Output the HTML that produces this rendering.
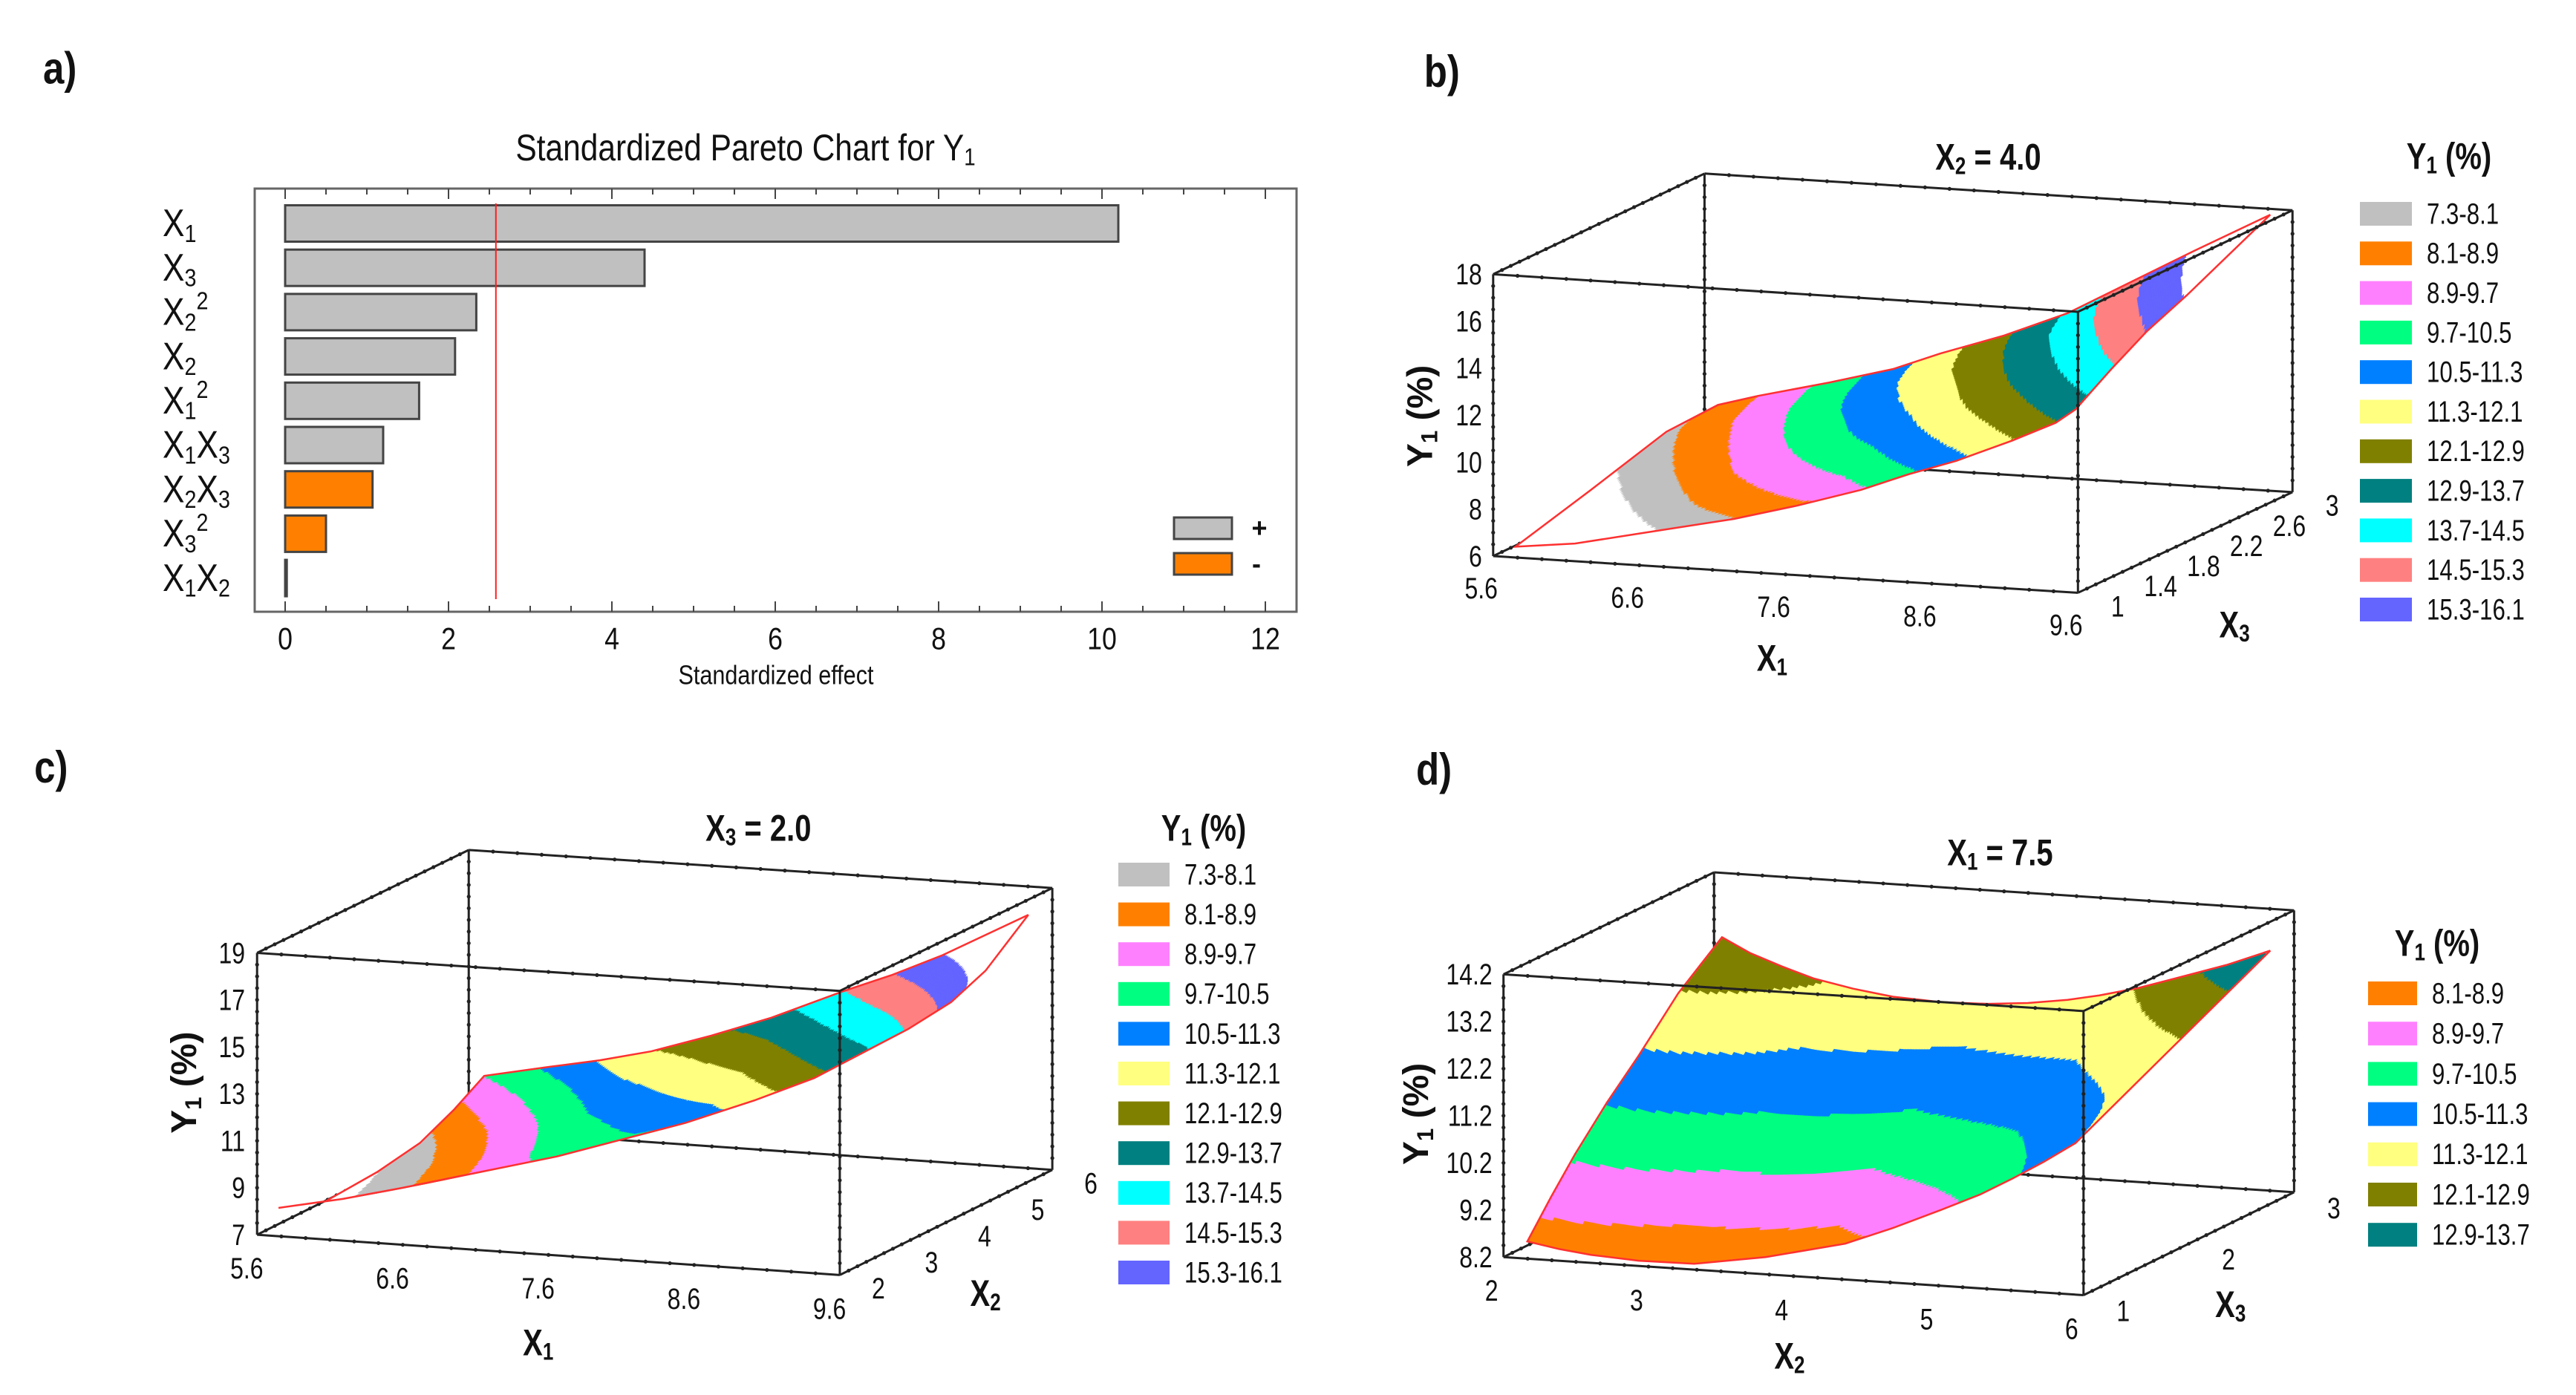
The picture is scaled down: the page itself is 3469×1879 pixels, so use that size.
<!DOCTYPE html>
<html><head><meta charset="utf-8">
<style>
html,body{margin:0;padding:0;background:#fff;}
svg{display:block;font-family:"Liberation Sans","DejaVu Sans",sans-serif;}
</style></head>
<body>
<svg id="fig" width="3469" height="1879" viewBox="0 0 3469 1879" xmlns="http://www.w3.org/2000/svg">
<rect x="0" y="0" width="3469" height="1879" fill="#fff"/>
<g id="pa"></g>
<g id="pb"></g>
<g id="pc"></g>
<g id="pd"></g>
</svg>
<script>
// ---------- Pareto data ----------
const paretoTerms = [["X","1"],["X","3"],["X","2","2"],["X","2"],["X","1","2"],["X1X3"],["X2X3"],["X","3","2"],["X1X2"]];
const paretoValues = [10.2, 4.4, 2.34, 2.08, 1.64, 1.2, 1.07, 0.5, 0.02];
const paretoSigns = ["+","+","+","+","+","+","-","-","+"];
const paretoTicks = [0,2,4,6,8,10,12];
const paretoCritical = 2.58;

// ---------- contour legend data ----------
const levels = [7.3,8.1,8.9,9.7,10.5,11.3,12.1,12.9,13.7,14.5,15.3,16.1];
const levelColors = ["#c0c0c0","#ff8000","#ff80ff","#00ff80","#0080ff","#ffff80","#808000","#008080","#00ffff","#ff8080","#6464ff"];

// ---------- surface value samples (rows: front/mid/back, 5 samples along u) ----------
const bFront = [5.4, 7.4, 8.9, 11.0, 13.3];
const bMid   = [7.2, 9.4, 11.3, 13.5, 15.8];
const bBack  = [8.25, 10.6, 12.95, 15.3, 17.65];
const cFront = [6.8, 9.4, 10.6, 13.3, 16.7];
const cMid   = [7.6, 10.3, 12.0, 14.4, 17.1];
const cBack  = [9.7, 11.9, 13.4, 15.5, 17.5];
const dFront = [8.55, 8.3, 8.6, 9.7, 11.3];
const dMid   = [10.75, 10.35, 10.3, 10.9, 12.0];
const dBack  = [12.85, 12.0, 11.8, 12.1, 13.75];

// axis tick labels
const bYTicks = [6,8,10,12,14,16,18], bX1Ticks=["5.6","6.6","7.6","8.6","9.6"], bX3Ticks=["1","1.4","1.8","2.2","2.6","3"];
const cYTicks = [7,9,11,13,15,17,19], cX1Ticks=["5.6","6.6","7.6","8.6","9.6"], cX2Ticks=["2","3","4","5","6"];
const dYTicks = ["8.2","9.2","10.2","11.2","12.2","13.2","14.2"], dX2Ticks=["2","3","4","5","6"], dX3Ticks=["1","2","3"];

const NS="http://www.w3.org/2000/svg";
function mk(parent,tag,attrs){const e=document.createElementNS(NS,tag);for(const k in attrs)e.setAttribute(k,attrs[k]);parent.appendChild(e);return e;}
function txt(parent,x,y,s,size,anchor,weight,sx,name){
  const t=mk(parent,"text",{transform:`translate(${x},${y}) scale(${sx||1},1)`,"font-size":size,"text-anchor":anchor||"start","font-weight":weight||"normal",fill:"#111","dominant-baseline":"central"});
  t.textContent=s;
  
  
  return t;}
function subTxt(parent,x,y,parts,size,anchor,weight,sx,name){
  const t=mk(parent,"text",{transform:`translate(${x},${y}) scale(${sx||1},1)`,"font-size":size,"text-anchor":anchor||"start","font-weight":weight||"normal",fill:"#111","dominant-baseline":"central"});
  
  
  parts.forEach(p=>{const ts=mk(t,"tspan",{});ts.textContent=p[0];
    if(p[1]==="s"){ts.setAttribute("font-size",size*0.65);ts.setAttribute("dy",size*0.25);}
    if(p[1]==="p"){ts.setAttribute("font-size",size*0.65);ts.setAttribute("dy",-size*0.55);}
    if(p[1]==="r"){ts.setAttribute("dy",p[2]);}
  });
  return t;}

// ---------- Pareto chart ----------
(function(){
  const g=document.getElementById("pa");
  const X0=384, PX=110, Y0=301, DY=59.7, BH=49;
  const xs=v=>X0+PX*v, ys=i=>Y0+DY*i;
  txt(g,58,92,"a)",60,"start","bold",0.85,"panel-label-a");
  subTxt(g,1004,199,[["Standardized Pareto Chart for Y","n"],["1","s"]],50,"middle","normal",0.85,"pareto-title");
  mk(g,"rect",{x:343,y:254,width:1403,height:570,fill:"none",stroke:"#666","stroke-width":3});
  for(let v=0;v<=12.01;v+=0.5){
    const L=(Math.abs(v-Math.round(v/2)*2)<1e-6)?14:8;
    mk(g,"line",{x1:xs(v),x2:xs(v),y1:824,y2:824-L,stroke:"#444","stroke-width":2});
    mk(g,"line",{x1:xs(v),x2:xs(v),y1:254,y2:254+L,stroke:"#444","stroke-width":2});
  }
  paretoTicks.forEach(v=>txt(g,xs(v),861,String(v),42,"middle","normal",0.85,"x-tick-label"));
  txt(g,1045,910,"Standardized effect",36,"middle","normal",0.85,"x-axis-title");
  paretoValues.forEach((v,i)=>{
    const r=mk(g,"rect",{x:xs(0),y:ys(i)-BH/2,width:Math.max(PX*v,2),height:BH,fill:paretoSigns[i]==="+"?"#c0c0c0":"#ff8000",stroke:"#444","stroke-width":3});
    
    
    const term=paretoTerms[i];
    let parts;
    if(term.length===1){const s=term[0];parts=[["X","n"],[s[1],"s"],["X","r",-52*0.25],[s[3],"s"]];}
    else if(term.length===2){parts=[["X","n"],[term[1],"s"]];}
    else {parts=[["X","n"],[term[1],"s"],[term[2],"p"]];}
    subTxt(g,219,ys(i),parts,52,"start","normal",0.85,"term-label");
  });
  const cl=mk(g,"line",{x1:xs(paretoCritical),x2:xs(paretoCritical),y1:274,y2:807,stroke:"#ff2020","stroke-width":2});
  
  const l1=mk(g,"rect",{x:1581,y:697,width:78,height:29,fill:"#c0c0c0",stroke:"#444","stroke-width":3});
  
  const l2=mk(g,"rect",{x:1581,y:745,width:78,height:29,fill:"#ff8000",stroke:"#444","stroke-width":3});
  
  txt(g,1696,711,"+",36,"middle","bold",1,"legend-plus");
  txt(g,1692,759,"-",36,"middle","bold",1,"legend-minus");
})();

// ---------- 3D helpers ----------
function polyLen(p){let L=[0];for(let i=1;i<p.length;i++)L.push(L[i-1]+Math.hypot(p[i][0]-p[i-1][0],p[i][1]-p[i-1][1]));return L;}
function curvePt(p,t){const L=polyLen(p),T=L[L.length-1]*t;for(let i=1;i<p.length;i++){if(T<=L[i]||i===p.length-1){const seg=L[i]-L[i-1]||1,f=Math.min(1,Math.max(0,(T-L[i-1])/seg));return [p[i-1][0]+(p[i][0]-p[i-1][0])*f,p[i-1][1]+(p[i][1]-p[i-1][1])*f];}}return p[p.length-1];}
function rev(p){return p.slice().reverse();}
function interp5(a,u){const s=u*4,i=Math.min(3,Math.floor(s)),f=s-i;return a[i]+(a[i+1]-a[i])*f;}
function val(front,mid,back,u,v){const a=interp5(front,u),b=interp5(mid,u),c=interp5(back,u);
  return a*2*(v-0.5)*(v-1)+b*(-4)*v*(v-1)+c*2*v*(v-0.5);}
function colorOf(y){for(let i=0;i<levelColors.length;i++){if(y>=levels[i]&&y<levels[i+1])return levelColors[i];}return "#ffffff";}

function drawPanel(cfg){
  const g=document.getElementById(cfg.id), T=cfg.T;
  const P=(p)=>T(p[0],p[1]);
  const B=cfg.box;
  function edge(a,b,name){
    const A=P(B[a]),C=P(B[b]);
    const e=mk(g,"line",{x1:A[0],y1:A[1],x2:C[0],y2:C[1],stroke:"#222","stroke-width":3});
    
    
    for(let k=1;k<24;k++){const f=k/24;mk(g,"circle",{cx:A[0]+(C[0]-A[0])*f,cy:A[1]+(C[1]-A[1])*f,r:2.6,fill:"#222"});}
  }
  edge("BLT","BRT","box-back-top");edge("BLT","FLT","box-left-top");edge("BLT","BLB","box-back-vertical");
  edge("BLB","BRB","box-back-bottom");edge("BLB","FLB","box-left-bottom");edge("BRT","BRB","box-back-right");
  const S=cfg.surf, nu=220, nv=90;
  const P00=S.F[0],P10=S.F[S.F.length-1],P01=S.K[0],P11=S.K[S.K.length-1];
  function coons(u,v){const f=curvePt(S.F,u),k=curvePt(S.K,u),l=curvePt(S.L,v),r=curvePt(S.R,v);
    const o=[0,1].map(j=>(1-v)*f[j]+v*k[j]+(1-u)*l[j]+u*r[j]-((1-u)*(1-v)*P00[j]+u*(1-v)*P10[j]+(1-u)*v*P01[j]+u*v*P11[j]));
    return T(o[0],o[1]);}
  const grid=[];for(let i=0;i<=nu;i++){grid.push([]);for(let j=0;j<=nv;j++)grid[i].push(coons(i/nu,j/nv));}
  const sg=mk(g,"g",{});
  
  
  for(let i=0;i<nu;i++)for(let j=0;j<nv;j++){
    const y=val(cfg.vals[0],cfg.vals[1],cfg.vals[2],(i+0.5)/nu,(j+0.5)/nv);
    const c=colorOf(y);
    const q=[grid[i][j],grid[i+1][j],grid[i+1][j+1],grid[i][j+1]];
    mk(sg,"polygon",{points:q.map(p=>p[0].toFixed(1)+","+p[1].toFixed(1)).join(" "),fill:c,stroke:c,"stroke-width":1});
  }
  const outline=S.F.concat(S.R,rev(S.K),rev(S.L)).map(p=>T(p[0],p[1]).join(",")).join(" ");
  const ol=mk(g,"polygon",{points:outline,fill:"none",stroke:"#ff3030","stroke-width":2.5});
  
  edge("FLT","FRT","box-front-top");edge("FLT","FLB","box-front-left");edge("FLB","FRB","box-front-bottom");
  edge("FRT","FRB","box-front-right");edge("FRT","BRT","box-right-top");edge("FRB","BRB","box-right-bottom");
  function along(a,b,f){const A=B[a],C=B[b];return [A[0]+(C[0]-A[0])*f,A[1]+(C[1]-A[1])*f];}
  cfg.yTicks.forEach((v,i)=>{const p=along("FLB","FLT",i/(cfg.yTicks.length-1));const q=T(p[0]-14,p[1]);txt(g,q[0],q[1],String(v),40,"end","normal",0.8,"y-tick-label");});
  cfg.xTicks.forEach((v,i)=>{const p=along("FLB","FRB",i/(cfg.xTicks.length-1));const q=T(p[0]+cfg.xOff[0],p[1]+cfg.xOff[1]);txt(g,q[0],q[1],String(v),40,"middle","normal",0.8,"x-tick-label");});
  cfg.zTicks.forEach((v,i)=>{const p=along("FRB","BRB",i/(cfg.zTicks.length-1));const q=T(p[0]+cfg.zOff[0],p[1]+cfg.zOff[1]);txt(g,q[0],q[1],String(v),40,"middle","normal",0.8,"depth-tick-label");});
  let q=T(cfg.xT[0],cfg.xT[1]);subTxt(g,q[0],q[1],[["X","n"],[cfg.xName,"s"]],50,"middle","bold",0.8,"x-axis-title");
  q=T(cfg.zT[0],cfg.zT[1]);subTxt(g,q[0],q[1],[["X","n"],[cfg.zName,"s"]],50,"middle","bold",0.8,"depth-axis-title");
  q=T(cfg.yT[0],cfg.yT[1]);
  const yt=subTxt(g,0,0,[["Y","n"],["1","s"],[" (%)","r",-48*0.25]],48,"middle","bold",1,"y-axis-title");
  yt.setAttribute("transform",`translate(${q[0]},${q[1]}) rotate(-90)`);
  q=T(cfg.title[0],cfg.title[1]);subTxt(g,q[0],q[1],[["X","n"],[cfg.titleSub,"s"],[" = "+cfg.titleVal,"r",-50*0.25]],50,"middle","bold",0.8,"slice-title");
  q=T(cfg.lab[0],cfg.lab[1]);txt(g,q[0],q[1],cfg.label,60,"start","bold",0.85,"panel-label");
  const L=cfg.legend;
  subTxt(g,L.tx,L.ty,[["Y","n"],["1","s"],[" (%)","r",-50*0.25]],50,"middle","bold",0.8,"legend-title");
  for(let i=L.from;i<L.to;i++){const k=i-L.from;const cy=L.y0+L.dy*k;
    const r=mk(g,"rect",{x:L.x0,y:cy-16,width:L.w,height:32,fill:levelColors[i]});
    
    
    txt(g,L.x0+L.w+20,cy,levels[i]+"-"+levels[i+1],40,"start","normal",0.78,"legend-entry");}
}

drawPanel({id:"pb",T:(x,y)=>[1800+1.07*x,0.6026*y],label:"b)",lab:[110,160],
 box:{FLT:[197,613],FLB:[197,1243],FRB:[933,1325],FRT:[933,697],BLT:[463,388],BLB:[463,1020],BRB:[1203,1100],BRT:[1203,470]},
 surf:{F:[[225,1222],[300,1215],[390,1190],[500,1160],[580,1130],[660,1095],[720,1060],[780,1030],[850,985],[905,945],[930,915]],
       R:[[930,915],[975,825],[1020,740],[1070,660],[1175,480]],
       K:[[480,905],[530,885],[620,855],[700,825],[760,790],[840,750],[920,700],[1000,630],[1080,560],[1175,480]],
       L:[[225,1222],[320,1095],[415,965],[480,905]]},
 vals:[bFront,bMid,bBack],yTicks:bYTicks,xTicks:bX1Ticks,zTicks:bX3Ticks,xOff:[-15,72],zOff:[50,30],
 xT:[548,1470],zT:[1130,1395],yT:[105,930],xName:"1",zName:"3",title:[820,350],titleSub:"2",titleVal:"4.0",
 legend:{tx:3298,ty:210,x0:3178,w:70,y0:288,dy:53.3,from:0,to:11}});

drawPanel({id:"pc",T:(x,y)=>[1.154*x,940+0.6026*y],label:"c)",lab:[40,155],
 box:{FLT:[300,570],FLB:[300,1200],FRB:[980,1290],FRT:[980,655],BLT:[547,340],BLB:[547,965],BRB:[1228,1055],BRT:[1228,425]},
 surf:{F:[[325,1140],[400,1120],[470,1095],[560,1060],[650,1025],[720,990],[800,950],[880,900],[950,850],[1000,800],[1060,740],[1110,680],[1150,610]],
       R:[[1150,610],[1200,485]],
       K:[[565,845],[640,825],[700,810],[760,790],[830,755],[900,715],[985,655],[1040,620],[1100,575],[1200,485]],
       L:[[325,1140],[380,1125],[440,1060],[490,995],[530,920],[565,845]]},
 vals:[cFront,cMid,cBack],yTicks:cYTicks,xTicks:cX1Ticks,zTicks:cX2Ticks,xOff:[-12,75],zOff:[45,30],
 xT:[628,1440],zT:[1150,1330],yT:[215,860],xName:"1",zName:"2",title:[885,290],titleSub:"3",titleVal:"2.0",
 legend:{tx:1621,ty:1115,x0:1506,w:69,y0:1178,dy:53.6,from:0,to:11}});

drawPanel({id:"pd",T:(x,y)=>[1800+1.07*x,940+0.6026*y],label:"d)",lab:[100,160],
 box:{FLT:[210,618],FLB:[210,1250],FRB:[940,1335],FRT:[940,700],BLT:[475,390],BLB:[475,1020],BRB:[1205,1105],BRT:[1205,475]},
 surf:{F:[[240,1215],[280,1232],[320,1245],[380,1258],[450,1265],[540,1250],[640,1220],[700,1185],[760,1145],[810,1110],[850,1075],[890,1037],[930,995]],
       R:[[930,995],[1175,565]],
       K:[[485,535],[520,570],[560,600],[600,627],[650,650],[700,668],[760,680],[820,684],[870,682],[920,675],[960,665],[1010,648],[1060,625],[1120,597],[1175,565]],
       L:[[240,1215],[270,1115],[300,1020],[340,905],[380,800],[430,660],[485,535]]},
 vals:[dFront,dMid,dBack],yTicks:dYTicks,xTicks:dX2Ticks,zTicks:dX3Ticks,xOff:[-15,75],zOff:[50,35],
 xT:[570,1470],zT:[1125,1355],yT:[100,930],xName:"2",zName:"3",title:[835,345],titleSub:"1",titleVal:"7.5",
 legend:{tx:3282,ty:1270,x0:3189,w:66,y0:1338,dy:54.2,from:1,to:8}});
</script>
</body></html>
